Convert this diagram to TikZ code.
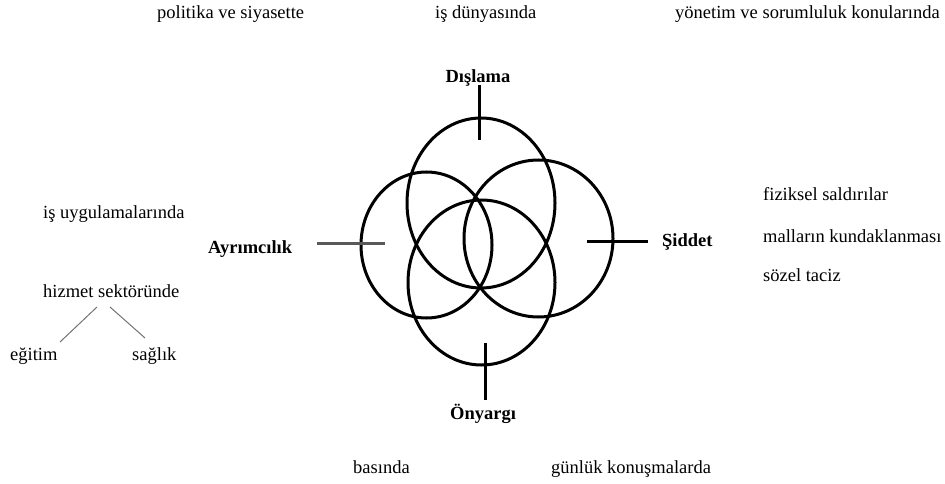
\documentclass[tikz,border=0pt]{standalone}
\usepackage{fontspec}
\setmainfont{Liberation Serif}
\usetikzlibrary{shapes.geometric}
\newcommand{\lblfont}{\fontsize{18.5}{22}\selectfont}
\begin{document}
\begin{tikzpicture}[x=1pt,y=-1pt,
  lbl/.style={inner sep=0pt, font=\lblfont},
  blbl/.style={inner sep=0pt, font=\lblfont\bfseries},
  ring/.style={draw, ellipse, inner sep=0pt, line width=3pt},
  tick/.style={line width=3pt},
  gtick/.style={line width=2.2pt, black!65},
  twig/.style={line width=1pt, black!55}]
\useasboundingbox[fill=white] (0,0) rectangle (945,484);

% rings
\node[ring, minimum width=148pt, minimum height=170pt] (rtop) at (481,203) {};
\node[ring, minimum width=147pt, minimum height=165pt] (rbot) at (481.5,282.5) {};
\node[ring, minimum width=131pt, minimum height=146pt] (rleft) at (426.5,245) {};
\node[ring, minimum width=149pt, minimum height=157pt] (rright) at (538.5,238.5) {};

% tick end points
\coordinate (dA) at (479,85);
\coordinate (dB) at (479,140);
\coordinate (oA) at (485,343);
\coordinate (oB) at (485,400);
\coordinate (aA) at (317,243.5);
\coordinate (aB) at (385,243.5);
\coordinate (sA) at (587,241);
\coordinate (sB) at (648,241);
\draw[tick] (dA) -- (dB);
\draw[tick] (oA) -- (oB);
\draw[gtick] (aA) -- (aB);
\draw[tick] (sA) -- (sB);

% main labels
\node[blbl, anchor=base] (disl) at (478,83) {Dışlama};
\node[blbl, anchor=base] (onya) at (483,419) {Önyargı};
\node[blbl, anchor=base west] (ayri) at (208,253) {Ayrımcılık};
\node[blbl, anchor=base west] (sidd) at (662,246) {Şiddet};

% top row
\node[lbl, anchor=base west] (pol) at (157,19) {politika ve siyasette};
\node[lbl, anchor=base west] (isd) at (435,19) {iş dünyasında};
\node[lbl, anchor=base west] (yon) at (675,19) {yönetim ve sorumluluk konularında};

% right list
\node[lbl, anchor=base west] (fiz) at (763,200) {fiziksel saldırılar};
\node[lbl, anchor=base west] (mal) at (763,242) {malların kundaklanması};
\node[lbl, anchor=base west] (soz) at (763,281) {sözel taciz};

% left side
\node[lbl, anchor=base west] (isu) at (43,218) {iş uygulamalarında};
\node[lbl, anchor=base west] (hiz) at (43,297) {hizmet sektöründe};
\node[lbl, anchor=base west] (egi) at (10,360) {eğitim};
\node[lbl, anchor=base west] (sag) at (132,360) {sağlık};
\coordinate (h1) at (97,307);
\coordinate (e1) at (60,342);
\coordinate (h2) at (110,307);
\coordinate (s1) at (145,338);
\draw[twig] (h1) -- (e1);
\draw[twig] (h2) -- (s1);

% bottom row
\node[lbl, anchor=base west] (bas) at (353,473) {basında};
\node[lbl, anchor=base west] (gun) at (551,473) {günlük konuşmalarda};
\end{tikzpicture}
\end{document}
